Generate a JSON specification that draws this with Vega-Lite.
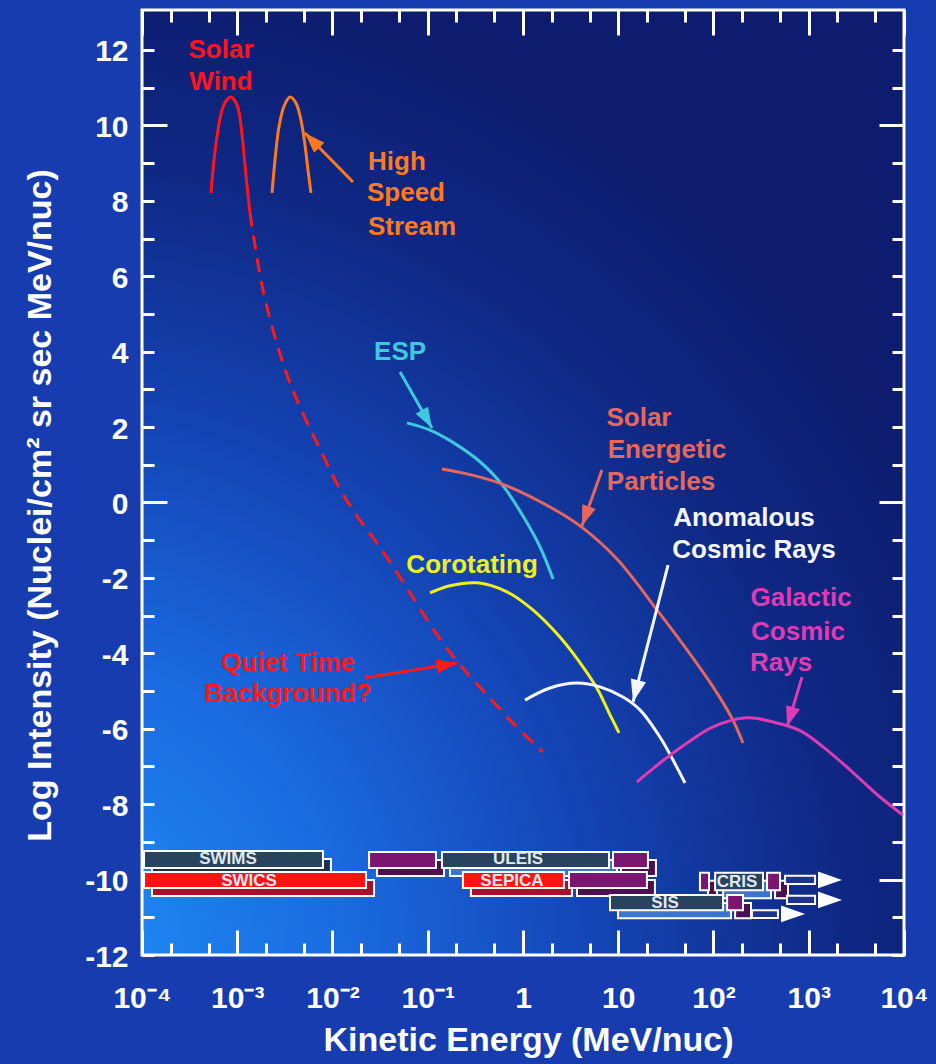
{
  "$schema": "https://vega.github.io/schema/vega-lite/v6.json",
  "width": 762,
  "height": 945,
  "autosize": "none",
  "padding": {"left": 142, "top": 10, "right": 32, "bottom": 109},
  "background": "#163cb0",
  "config": {
    "view": {
      "stroke": "#ffffff",
      "strokeWidth": 3,
      "fill": {"gradient": "radial", "x1": 0, "y1": 1, "r1": 0, "x2": 0, "y2": 1, "r2": 1.05,
        "stops": [
          {"offset": 0, "color": "#1e90f8"},
          {"offset": 0.3, "color": "#1a6ae0"},
          {"offset": 0.55, "color": "#1444b4"},
          {"offset": 0.8, "color": "#0f2884"},
          {"offset": 1, "color": "#0d1c6e"}
        ]}
    },
    "font": "Liberation Sans",
    "text": {"font": "Liberation Sans", "fontWeight": "bold"}
  },
  "datasets": {
    "curves": [
      {"series": "Solar Wind", "E": 0.00053, "I": 8.21},
      {"series": "Solar Wind", "E": 0.00057, "I": 9.08},
      {"series": "Solar Wind", "E": 0.000628, "I": 9.88},
      {"series": "Solar Wind", "E": 0.000692, "I": 10.41},
      {"series": "Solar Wind", "E": 0.00078, "I": 10.68},
      {"series": "Solar Wind", "E": 0.000859, "I": 10.75},
      {"series": "Solar Wind", "E": 0.000946, "I": 10.65},
      {"series": "Solar Wind", "E": 0.001042, "I": 10.36},
      {"series": "Solar Wind", "E": 0.001122, "I": 9.75},
      {"series": "Solar Wind", "E": 0.001206, "I": 8.95},
      {"series": "Solar Wind", "E": 0.001297, "I": 8.15},
      {"series": "Solar Wind", "E": 0.001361, "I": 7.68},
      {"series": "High Speed Stream", "E": 0.00232, "I": 8.21},
      {"series": "High Speed Stream", "E": 0.00249, "I": 9.08},
      {"series": "High Speed Stream", "E": 0.00274, "I": 9.96},
      {"series": "High Speed Stream", "E": 0.0031, "I": 10.51},
      {"series": "High Speed Stream", "E": 0.00358, "I": 10.75},
      {"series": "High Speed Stream", "E": 0.00414, "I": 10.59},
      {"series": "High Speed Stream", "E": 0.00467, "I": 10.14},
      {"series": "High Speed Stream", "E": 0.00514, "I": 9.48},
      {"series": "High Speed Stream", "E": 0.00553, "I": 8.82},
      {"series": "High Speed Stream", "E": 0.00594, "I": 8.21},
      {"series": "ESP", "E": 0.0605, "I": 2.11},
      {"series": "ESP", "E": 0.1056, "I": 1.92},
      {"series": "ESP", "E": 0.1714, "I": 1.64},
      {"series": "ESP", "E": 0.354, "I": 1.08},
      {"series": "ESP", "E": 0.617, "I": 0.44},
      {"series": "ESP", "E": 1.0, "I": -0.36},
      {"series": "ESP", "E": 1.51, "I": -1.18},
      {"series": "ESP", "E": 2.07, "I": -2.03},
      {"series": "SEP", "E": 0.141, "I": 0.889},
      {"series": "SEP", "E": 0.278, "I": 0.74},
      {"series": "SEP", "E": 0.617, "I": 0.48},
      {"series": "SEP", "E": 1.92, "I": -0.12},
      {"series": "SEP", "E": 4.16, "I": -0.66},
      {"series": "SEP", "E": 9.7, "I": -1.5},
      {"series": "SEP", "E": 25.5, "I": -2.85},
      {"series": "SEP", "E": 52.7, "I": -3.91},
      {"series": "SEP", "E": 98.9, "I": -4.89},
      {"series": "SEP", "E": 160, "I": -5.77},
      {"series": "SEP", "E": 204, "I": -6.38},
      {"series": "Corotating", "E": 0.1056, "I": -2.4},
      {"series": "Corotating", "E": 0.171, "I": -2.21},
      {"series": "Corotating", "E": 0.329, "I": -2.13},
      {"series": "Corotating", "E": 0.679, "I": -2.37},
      {"series": "Corotating", "E": 1.27, "I": -2.85},
      {"series": "Corotating", "E": 2.44, "I": -3.57},
      {"series": "Corotating", "E": 4.26, "I": -4.36},
      {"series": "Corotating", "E": 6.12, "I": -4.97},
      {"series": "Corotating", "E": 8.19, "I": -5.63},
      {"series": "Corotating", "E": 10.2, "I": -6.11},
      {"series": "ACR", "E": 1.05, "I": -5.24},
      {"series": "ACR", "E": 1.92, "I": -4.92},
      {"series": "ACR", "E": 3.69, "I": -4.79},
      {"series": "ACR", "E": 6.43, "I": -4.89},
      {"series": "ACR", "E": 11.2, "I": -5.16},
      {"series": "ACR", "E": 16.9, "I": -5.5},
      {"series": "ACR", "E": 27.4, "I": -6.22},
      {"series": "ACR", "E": 37.6, "I": -6.83},
      {"series": "ACR", "E": 50.2, "I": -7.44},
      {"series": "GCR", "E": 15.7, "I": -7.41},
      {"series": "GCR", "E": 27.4, "I": -6.91},
      {"series": "GCR", "E": 52.7, "I": -6.38},
      {"series": "GCR", "E": 98.9, "I": -5.95},
      {"series": "GCR", "E": 225, "I": -5.71},
      {"series": "GCR", "E": 422, "I": -5.82},
      {"series": "GCR", "E": 810, "I": -6.05},
      {"series": "GCR", "E": 1413, "I": -6.48},
      {"series": "GCR", "E": 2711, "I": -7.09},
      {"series": "GCR", "E": 5600, "I": -7.81},
      {"series": "GCR", "E": 9770, "I": -8.29},
      {"series": "Quiet Time", "E": 0.001361, "I": 7.68},
      {"series": "Quiet Time", "E": 0.001862, "I": 5.64},
      {"series": "Quiet Time", "E": 0.00302, "I": 3.69},
      {"series": "Quiet Time", "E": 0.00456, "I": 2.53},
      {"series": "Quiet Time", "E": 0.00776, "I": 1.31},
      {"series": "Quiet Time", "E": 0.01115, "I": 0.5},
      {"series": "Quiet Time", "E": 0.01722, "I": -0.28},
      {"series": "Quiet Time", "E": 0.0293, "I": -1.08},
      {"series": "Quiet Time", "E": 0.0512, "I": -1.975},
      {"series": "Quiet Time", "E": 0.0771, "I": -2.7},
      {"series": "Quiet Time", "E": 0.1445, "I": -3.73},
      {"series": "Quiet Time", "E": 0.258, "I": -4.52},
      {"series": "Quiet Time", "E": 0.419, "I": -5.1},
      {"series": "Quiet Time", "E": 0.785, "I": -5.85},
      {"series": "Quiet Time", "E": 1.62, "I": -6.62}
    ],
    "arrows": [
      {"series": "High Speed Stream", "E": 0.0164, "I": 8.5, "E2": 0.00514, "I2": 9.8, "angle": 316, "head": "s"},
      {"series": "ESP", "E": 0.0512, "I": 3.46, "E2": 0.1109, "I2": 1.976, "angle": 150, "head": "s"},
      {"series": "SEP", "E": 6.75, "I": 0.862, "E2": 4.16, "I2": -0.62, "angle": 200, "head": "s"},
      {"series": "ACR", "E": 33.3, "I": -1.66, "E2": 14.3, "I2": -5.29, "angle": 194, "head": "m"},
      {"series": "GCR", "E": 849, "I": -4.63, "E2": 592, "I2": -5.95, "angle": 197, "head": "s"},
      {"series": "Quiet Time", "E": 0.0219, "I": -4.65, "E2": 0.2028, "I2": -4.26, "angle": 81, "head": "s"},
      {"series": "Instrument", "E": 564, "I": -10.01, "E2": 2233, "I2": -10.01, "angle": 90, "head": "l"},
      {"series": "Instrument", "E": 592, "I": -10.54, "E2": 2233, "I2": -10.54, "angle": 90, "head": "l"},
      {"series": "Instrument", "E": 253, "I": -10.91, "E2": 914, "I2": -10.91, "angle": 90, "head": "l"}
    ],
    "shafts": [
      {"E": 564, "E2": 1164, "I": -9.9, "I2": -10.12},
      {"E": 592, "E2": 1164, "I": -10.43, "I2": -10.65},
      {"E": 253, "E2": 475, "I": -10.81, "I2": -11.02}
    ],
    "bars": [
      {"inst": "SWIMS", "E": 0.000105, "E2": 0.00794, "I": -9.24, "I2": -9.69, "face": "slate", "side": "slate_side"},
      {"inst": "SWICS", "E": 0.000105, "E2": 0.0225, "I": -9.8, "I2": -10.22, "face": "red", "side": "red_side"},
      {"inst": "ULEIS", "E": 0.0242, "E2": 0.122, "I": -9.27, "I2": -9.69, "face": "purple", "side": "purple_side"},
      {"inst": "ULEIS", "E": 0.141, "E2": 8.0, "I": -9.27, "I2": -9.69, "face": "slate", "side": "blue_side"},
      {"inst": "ULEIS", "E": 8.81, "E2": 20.5, "I": -9.27, "I2": -9.69, "face": "purple", "side": "purple_side"},
      {"inst": "SEPICA", "E": 0.234, "E2": 2.69, "I": -9.8, "I2": -10.22, "face": "red", "side": "red_side"},
      {"inst": "SEPICA", "E": 3.04, "E2": 20.0, "I": -9.8, "I2": -10.22, "face": "purple", "side": "purple_side"},
      {"inst": "SIS", "E": 8.19, "E2": 126, "I": -10.41, "I2": -10.81, "face": "slate", "side": "blue_side"},
      {"inst": "SIS", "E": 139, "E2": 204, "I": -10.41, "I2": -10.81, "face": "purple", "side": "purple_side"},
      {"inst": "CRIS", "E": 72.1, "E2": 89.7, "I": -9.82, "I2": -10.28, "face": "purple", "side": "purple_side"},
      {"inst": "CRIS", "E": 104, "E2": 331, "I": -9.82, "I2": -10.28, "face": "slate", "side": "blue_side"},
      {"inst": "CRIS", "E": 365, "E2": 499, "I": -9.82, "I2": -10.28, "face": "purple", "side": "purple_side"}
    ],
    "barLabels": [
      {"text": "SWIMS", "E": 0.0008, "I": -9.45},
      {"text": "SWICS", "E": 0.00133, "I": -10.04},
      {"text": "ULEIS", "E": 0.887, "I": -9.45},
      {"text": "SEPICA", "E": 0.766, "I": -10.04},
      {"text": "SIS", "E": 31.0, "I": -10.63},
      {"text": "CRIS", "E": 177, "I": -10.06}
    ],
    "labels": [
      {"series": "Solar Wind", "text": "Solar", "E": 0.000675, "I": 12.0},
      {"series": "Solar Wind", "text": "Wind", "E": 0.000675, "I": 11.15},
      {"series": "High Speed Stream", "text": "High", "E": 0.0475, "I": 9.03},
      {"series": "High Speed Stream", "text": "Speed", "E": 0.0591, "I": 8.21},
      {"series": "High Speed Stream", "text": "Stream", "E": 0.0684, "I": 7.31},
      {"series": "ESP", "text": "ESP", "E": 0.0512, "I": 3.99},
      {"series": "SEP", "text": "Solar", "E": 16.5, "I": 2.24},
      {"series": "SEP", "text": "Energetic", "E": 32.5, "I": 1.39},
      {"series": "SEP", "text": "Particles", "E": 28.1, "I": 0.544},
      {"series": "ACR", "text": "Anomalous", "E": 209, "I": -0.41},
      {"series": "ACR", "text": "Cosmic Rays", "E": 266, "I": -1.26},
      {"series": "GCR", "text": "Galactic", "E": 830, "I": -2.53},
      {"series": "GCR", "text": "Cosmic", "E": 771, "I": -3.43},
      {"series": "GCR", "text": "Rays", "E": 512, "I": -4.26},
      {"series": "Corotating", "text": "Corotating", "E": 0.292, "I": -1.66},
      {"series": "Quiet Time", "text": "Quiet Time", "E": 0.00341, "I": -4.26},
      {"series": "Quiet Time", "text": "Background?", "E": 0.00341, "I": -5.08}
    ]
  },
  "encoding": {
    "x": {"field": "E", "type": "quantitative", "scale": {"type": "log", "domain": [0.0001, 10000], "nice": false}, "axis": null},
    "y": {"field": "I", "type": "quantitative", "scale": {"domain": [-12, 13.06], "nice": false, "zero": false}, "axis": null}
  },
  "layer": [
    {
      "data": {"name": "bars"},
      "mark": {"type": "rect", "stroke": "#ffffff", "strokeWidth": 2, "xOffset": 8, "x2Offset": 8, "yOffset": 8, "y2Offset": 8},
      "encoding": {
        "x2": {"field": "E2"},
        "y2": {"field": "I2"},
        "fill": {"field": "side", "type": "nominal", "legend": null,
          "scale": {"domain": ["slate", "red", "purple", "slate_side", "red_side", "purple_side", "blue_side"],
                    "range": ["#28435e", "#ff1212", "#7a1670", "#1c2f4a", "#a8102c", "#4a1050", "#3a76d0"]}}
      }
    },
    {
      "data": {"name": "bars"},
      "mark": {"type": "rect", "stroke": "#ffffff", "strokeWidth": 2},
      "encoding": {
        "x2": {"field": "E2"},
        "y2": {"field": "I2"},
        "fill": {"field": "face", "type": "nominal", "legend": null,
          "scale": {"domain": ["slate", "red", "purple", "slate_side", "red_side", "purple_side", "blue_side"],
                    "range": ["#28435e", "#ff1212", "#7a1670", "#1c2f4a", "#a8102c", "#4a1050", "#3a76d0"]}}
      }
    },
    {
      "data": {"name": "shafts"},
      "mark": {"type": "rect", "fill": "#1c3490", "stroke": "#ffffff", "strokeWidth": 2},
      "encoding": {
        "x2": {"field": "E2"},
        "y2": {"field": "I2"}
      }
    },
    {
      "data": {"name": "barLabels"},
      "mark": {"type": "text", "fontSize": 17, "fontWeight": "bold", "color": "#dfe8f2", "baseline": "middle", "align": "center"},
      "encoding": {"text": {"field": "text"}}
    },
    {
      "data": {"name": "curves"},
      "transform": [{"filter": "datum.series != 'Quiet Time'"}],
      "mark": {"type": "line", "strokeWidth": 3, "interpolate": "catmull-rom"},
      "encoding": {
        "x": {"field": "E", "type": "quantitative", "scale": {"type": "log", "domain": [0.0001, 10000], "nice": false},
          "axis": {
            "orient": "bottom",
            "values": [0.0001, 0.0002, 0.0005, 0.001, 0.002, 0.005, 0.01, 0.02, 0.05, 0.1, 0.2, 0.5, 1, 2, 5, 10, 20, 50, 100, 200, 500, 1000, 2000, 5000, 10000],
            "labelExpr": "abs(log(datum.value)/LN10 - round(log(datum.value)/LN10)) < 0.001 ? ['10⁻⁴','10⁻³','10⁻²','10⁻¹','1','10','10²','10³','10⁴'][round(log(datum.value)/LN10)+4] : ''",
            "tickSize": {"condition": {"test": "abs(log(datum.value)/LN10 - round(log(datum.value)/LN10)) < 0.001", "value": -25}, "value": -12},
            "labelPadding": 53,
            "tickColor": "#ffffff",
            "tickWidth": 3,
            "domain": false,
            "grid": false,
            "labelFont": "Liberation Sans",
            "labelFontSize": 30,
            "labelFontWeight": "bold",
            "labelColor": "#ffffff",
            "labelFlush": false,
            "labelOverlap": false,
            "labelBound": false,
            "labelBaseline": "top",
            "title": "Kinetic Energy (MeV/nuc)",
            "titleFont": "Liberation Sans",
            "titleFontSize": 34,
            "titleFontWeight": "bold",
            "titleColor": "#ffffff",
            "titleX": 386,
            "titleY": 85,
            "titleAlign": "center",
            "titleBaseline": "middle"
          }},
        "y": {"field": "I", "type": "quantitative", "scale": {"domain": [-12, 13.06], "nice": false, "zero": false},
          "axis": {
            "orient": "left",
            "values": [-12, -11, -10, -9, -8, -7, -6, -5, -4, -3, -2, -1, 0, 1, 2, 3, 4, 5, 6, 7, 8, 9, 10, 11, 12],
            "labelExpr": "datum.value % 2 == 0 ? '' + datum.value : ''",
            "tickSize": {"condition": {"test": "datum.value % 10 == 0", "value": -25}, "value": -12},
            "labelPadding": {"condition": {"test": "datum.value % 10 == 0", "value": 39}, "value": 26},
            "labelOffset": 2,
            "tickColor": "#ffffff",
            "tickWidth": 3,
            "domain": false,
            "grid": false,
            "labelFont": "Liberation Sans",
            "labelFontSize": 30,
            "labelFontWeight": "bold",
            "labelColor": "#ffffff",
            "labelFlush": false,
            "labelOverlap": false,
            "labelBound": false,
            "title": "Log Intensity (Nuclei/cm² sr sec MeV/nuc)",
            "titleFont": "Liberation Sans",
            "titleFontSize": 34,
            "titleFontWeight": "bold",
            "titleColor": "#ffffff",
            "titleX": -102,
            "titleY": 495,
            "titleAngle": -90,
            "titleAlign": "center",
            "titleBaseline": "middle"
          }},
        "color": {"field": "series", "type": "nominal", "legend": null,
          "scale": {"domain": ["Solar Wind", "High Speed Stream", "ESP", "SEP", "Corotating", "ACR", "GCR", "Quiet Time", "Instrument"],
                    "range": ["#ff1418", "#ff7a1e", "#40c8dc", "#e6685c", "#eef020", "#f4f6ff", "#de3cb4", "#ff1a1a", "#ffffff"]}}
      }
    },
    {
      "data": {"name": "curves"},
      "transform": [{"filter": "datum.series == 'Quiet Time'"}],
      "mark": {"type": "line", "strokeWidth": 3, "strokeDash": [14, 9], "interpolate": "catmull-rom"},
      "encoding": {
        "x": {"field": "E", "type": "quantitative", "scale": {"type": "log", "domain": [0.0001, 10000], "nice": false},
          "axis": {
            "orient": "top",
            "values": [0.0001, 0.0002, 0.0005, 0.001, 0.002, 0.005, 0.01, 0.02, 0.05, 0.1, 0.2, 0.5, 1, 2, 5, 10, 20, 50, 100, 200, 500, 1000, 2000, 5000, 10000],
            "labels": false,
            "tickSize": {"condition": {"test": "abs(log(datum.value)/LN10 - round(log(datum.value)/LN10)) < 0.001", "value": -25}, "value": -12},
            "tickColor": "#ffffff",
            "tickWidth": 3,
            "domain": false,
            "grid": false,
            "title": null
          }},
        "y": {"field": "I", "type": "quantitative", "scale": {"domain": [-12, 13.06], "nice": false, "zero": false},
          "axis": {
            "orient": "right",
            "values": [-12, -11, -10, -9, -8, -7, -6, -5, -4, -3, -2, -1, 0, 1, 2, 3, 4, 5, 6, 7, 8, 9, 10, 11, 12],
            "labels": false,
            "tickSize": {"condition": {"test": "datum.value % 10 == 0", "value": -25}, "value": -12},
            "tickColor": "#ffffff",
            "tickWidth": 3,
            "domain": false,
            "grid": false,
            "title": null
          }},
        "color": {"field": "series", "type": "nominal", "legend": null,
          "scale": {"domain": ["Solar Wind", "High Speed Stream", "ESP", "SEP", "Corotating", "ACR", "GCR", "Quiet Time", "Instrument"],
                    "range": ["#ff1418", "#ff7a1e", "#40c8dc", "#e6685c", "#eef020", "#f4f6ff", "#de3cb4", "#ff1a1a", "#ffffff"]}}
      }
    },
    {
      "data": {"name": "arrows"},
      "transform": [{"filter": "datum.series != 'Instrument'"}],
      "mark": {"type": "rule", "strokeWidth": 3},
      "encoding": {
        "x2": {"field": "E2"},
        "y2": {"field": "I2"},
        "color": {"field": "series", "type": "nominal", "legend": null,
          "scale": {"domain": ["Solar Wind", "High Speed Stream", "ESP", "SEP", "Corotating", "ACR", "GCR", "Quiet Time", "Instrument"],
                    "range": ["#ff1418", "#ff7a1e", "#40c8dc", "#e6685c", "#eef020", "#f4f6ff", "#de3cb4", "#ff1a1a", "#ffffff"]}}
      }
    },
    {
      "data": {"name": "arrows"},
      "mark": {"type": "point", "shape": "M0,0L0.7,2L-0.7,2Z", "filled": true, "opacity": 1, "strokeWidth": 0},
      "encoding": {
        "x": {"field": "E2", "type": "quantitative", "scale": {"type": "log", "domain": [0.0001, 10000], "nice": false}, "axis": null},
        "y": {"field": "I2", "type": "quantitative", "scale": {"domain": [-12, 13.06], "nice": false, "zero": false}, "axis": null},
        "angle": {"field": "angle", "type": "quantitative", "scale": null},
        "size": {"field": "head", "type": "ordinal", "legend": null, "scale": {"domain": ["s", "m", "l"], "range": [420, 576, 784]}},
        "color": {"field": "series", "type": "nominal", "legend": null,
          "scale": {"domain": ["Solar Wind", "High Speed Stream", "ESP", "SEP", "Corotating", "ACR", "GCR", "Quiet Time", "Instrument"],
                    "range": ["#ff1418", "#ff7a1e", "#40c8dc", "#e6685c", "#eef020", "#f4f6ff", "#de3cb4", "#ff1a1a", "#ffffff"]}}
      }
    },
    {
      "data": {"name": "labels"},
      "mark": {"type": "text", "fontSize": 26, "fontWeight": "bold", "baseline": "middle", "align": "center"},
      "encoding": {
        "text": {"field": "text"},
        "color": {"field": "series", "type": "nominal", "legend": null,
          "scale": {"domain": ["Solar Wind", "High Speed Stream", "ESP", "SEP", "Corotating", "ACR", "GCR", "Quiet Time", "Instrument"],
                    "range": ["#ff1418", "#ff7a1e", "#40c8dc", "#e6685c", "#eef020", "#f4f6ff", "#de3cb4", "#ff1a1a", "#ffffff"]}}
      }
    }
  ],
  "resolve": {"axis": {"x": "independent", "y": "independent"}}
}
